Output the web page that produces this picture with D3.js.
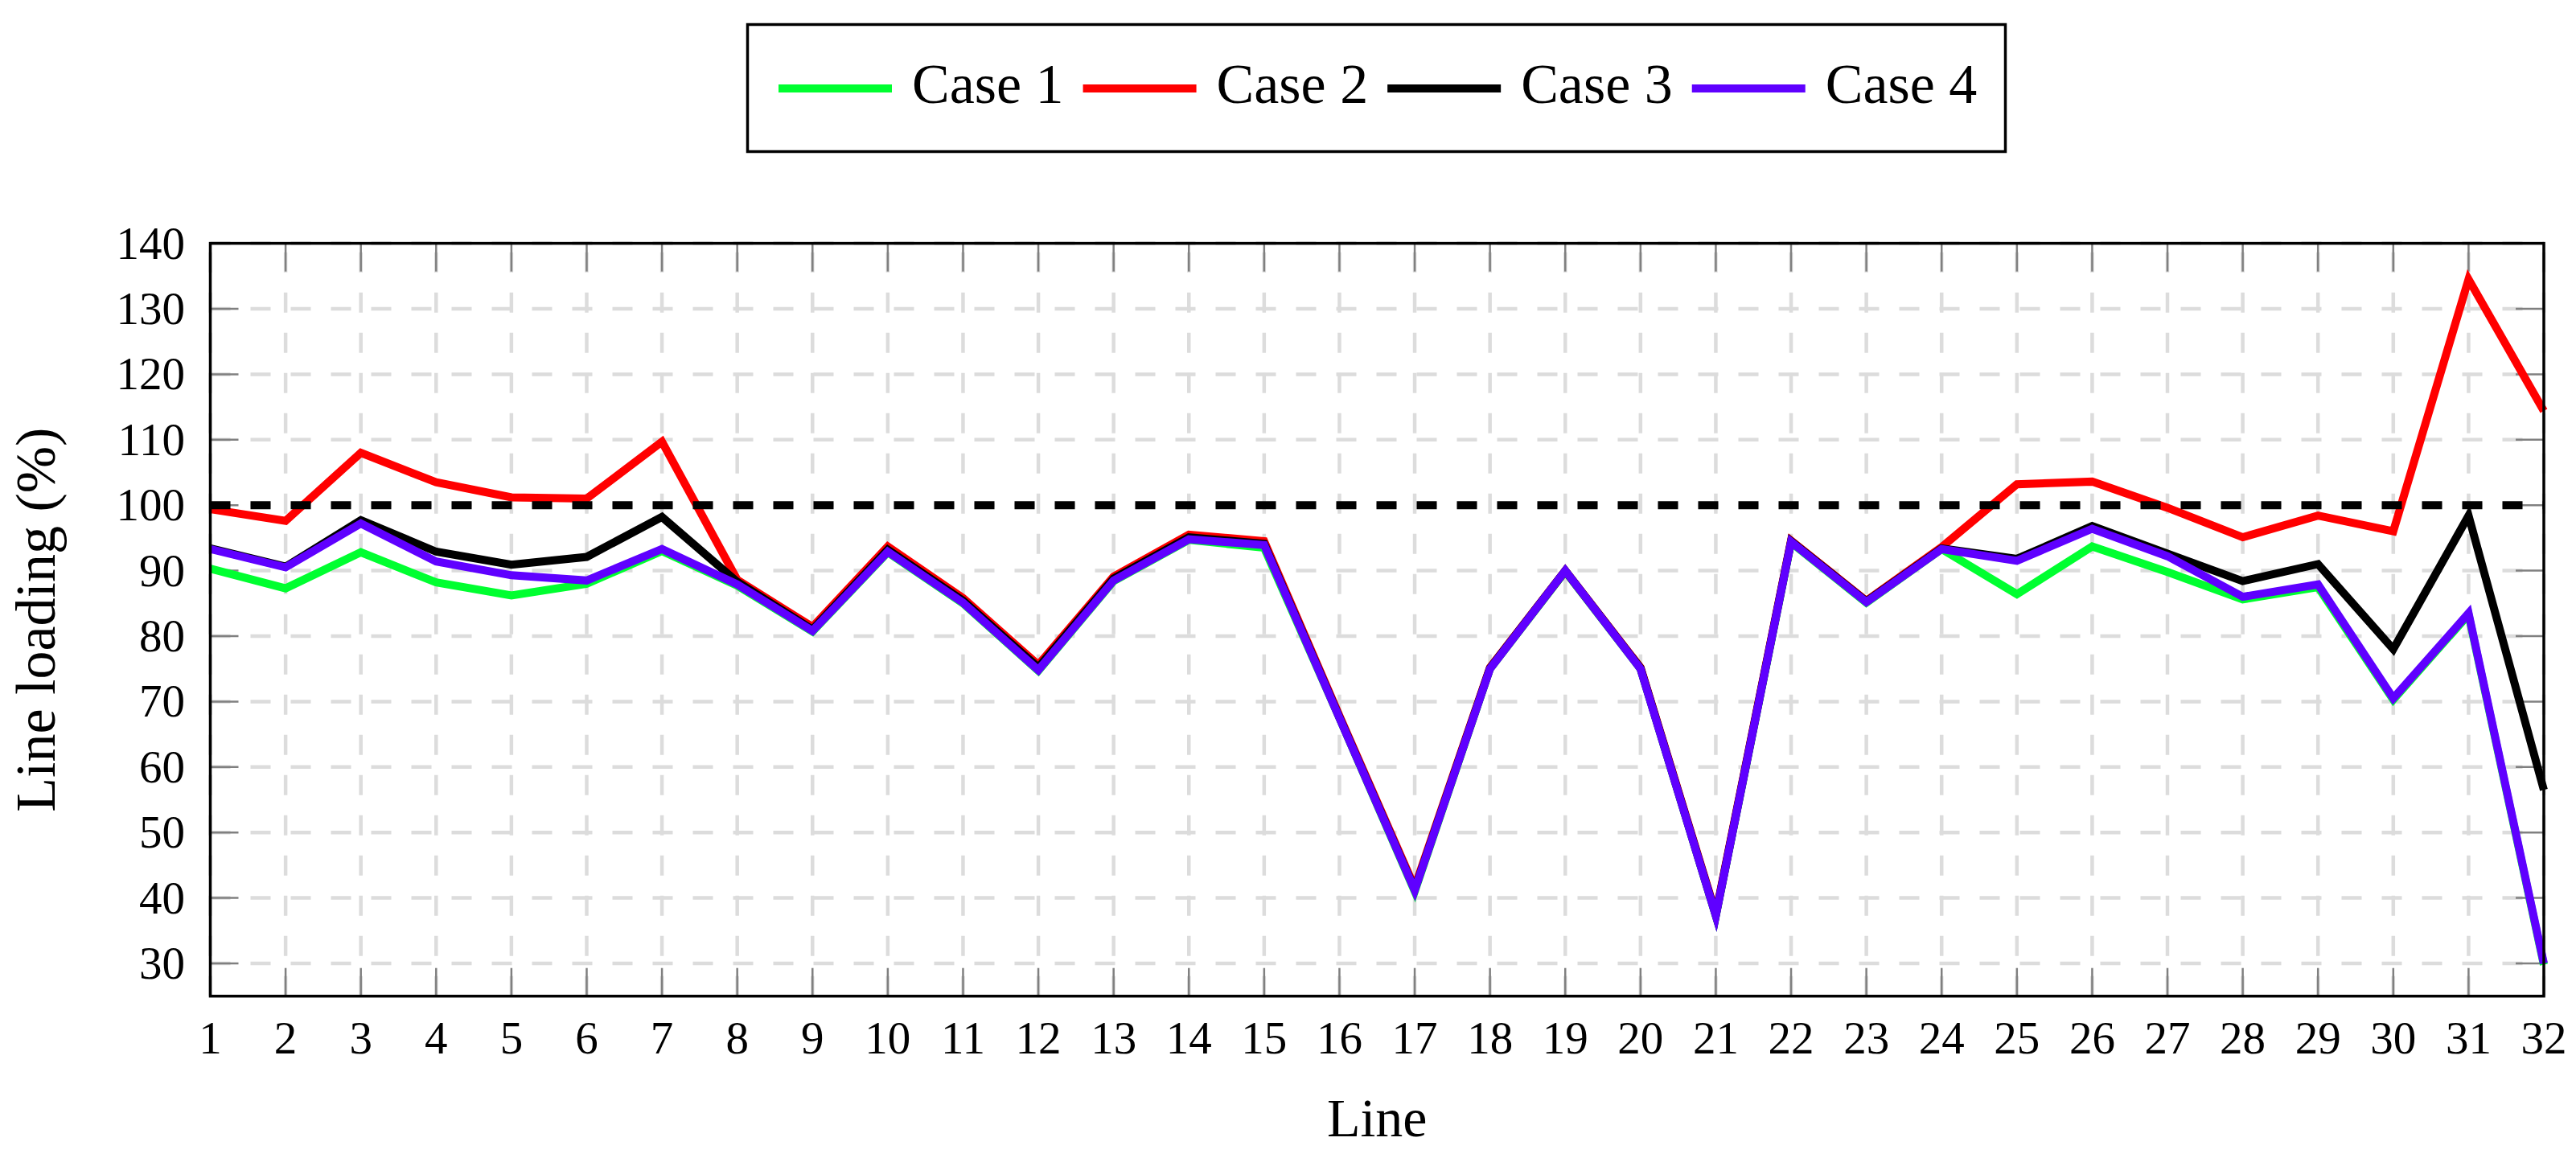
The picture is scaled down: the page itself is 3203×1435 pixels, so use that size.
<!DOCTYPE html>
<html>
<head>
<meta charset="utf-8">
<script src="https://cdn.jsdelivr.net/npm/d3@7"></script>
<style>
  html, body { margin: 0; padding: 0; background: #fff; }
  svg { display: block; }
  text { font-family: "Liberation Serif", "DejaVu Serif", serif; fill: #000; }
</style>
</head>
<body>
<svg id="chart" width="3203" height="1435"></svg>
<script>
// ---------- data ----------
const lines = d3.range(1, 33); // Line 1..32
const seriesNames = ["Case 1", "Case 2", "Case 3", "Case 4"];
const case1 = [90.3, 87.3, 92.8, 88.2, 86.2, 88.0, 93.0, 87.7, 80.7, 92.8, 85.0, 74.7, 88.4, 94.7, 93.5, 67.5,
               41.0, 75.0, 89.9, 75.0, 37.3, 94.3, 85.1, 93.3, 86.4, 93.7, 89.8, 85.6, 87.5, 70.3, 83.3, 29.8];
const case2 = [99.4, 97.6, 108.0, 103.5, 101.2, 101.0, 109.7, 88.6, 81.4, 93.7, 85.8, 75.6, 89.1, 95.5, 94.5, 67.8,
               41.6, 75.2, 90.0, 75.2, 37.6, 94.6, 85.4, 93.6, 103.2, 103.6, 99.6, 95.1, 98.4, 96.0, 134.5, 114.4];
const case3 = [93.4, 90.6, 97.7, 92.9, 90.9, 92.1, 98.2, 88.3, 81.0, 93.2, 85.4, 75.2, 88.8, 95.1, 94.1, 67.6,
               41.3, 75.1, 90.0, 75.1, 37.4, 94.5, 85.3, 93.4, 91.8, 96.8, 92.6, 88.4, 91.0, 78.0, 98.4, 56.5];
const case4 = [93.3, 90.5, 97.2, 91.4, 89.3, 88.5, 93.3, 87.9, 80.8, 92.9, 85.1, 74.8, 88.5, 94.8, 93.9, 67.5,
               41.2, 75.0, 90.0, 75.0, 37.3, 94.4, 85.2, 93.3, 91.5, 96.4, 92.2, 86.0, 87.9, 70.5, 83.5, 30.0];
const seriesValues = [case1, case2, case3, case4];
const seriesColors = ["#00ff30", "#ff0000", "#000000", "#5f00ff"];
const yTicks = [30, 40, 50, 60, 70, 80, 90, 100, 110, 120, 130, 140];
const xTicks = lines;
const limitValue = 100;
const yDomain = [25, 140];
const xLabel = "Line";
const yLabel = "Line loading (%)";

// ---------- layout ----------
const L = 261.5, R = 3163, T = 302.6, B = 1238.7;
const svg = d3.select("#chart");
const x = d3.scaleLinear().domain([1, 32]).range([L, R]);
const y = d3.scaleLinear().domain(yDomain).range([B, T]);

// grid
const grid = svg.append("g");
grid.selectAll("line.v").data(xTicks).join("line")
  .attr("x1", d => x(d)).attr("x2", d => x(d)).attr("y1", B).attr("y2", T)
  .attr("stroke", "#dcdcdc").attr("stroke-width", 4.5).attr("stroke-dasharray", "25,25");
grid.selectAll("line.h").data(yTicks).join("line")
  .attr("x1", L).attr("x2", R).attr("y1", d => y(d)).attr("y2", d => y(d))
  .attr("stroke", "#dcdcdc").attr("stroke-width", 4.5).attr("stroke-dasharray", "25,25");

// ticks (inside, on all four sides)
const tickLen = 35;
const ticks = svg.append("g").attr("stroke", "#808080").attr("stroke-width", 2.5);
ticks.selectAll("line.b").data(xTicks).join("line")
  .attr("x1", d => x(d)).attr("x2", d => x(d)).attr("y1", B).attr("y2", B - tickLen);
ticks.selectAll("line.t").data(xTicks).join("line")
  .attr("x1", d => x(d)).attr("x2", d => x(d)).attr("y1", T).attr("y2", T + tickLen);
ticks.selectAll("line.l").data(yTicks).join("line")
  .attr("x1", L).attr("x2", L + tickLen).attr("y1", d => y(d)).attr("y2", d => y(d));
ticks.selectAll("line.r").data(yTicks).join("line")
  .attr("x1", R).attr("x2", R - tickLen).attr("y1", d => y(d)).attr("y2", d => y(d));

// data lines
const lineGen = d3.line().x((d, i) => x(lines[i])).y(d => y(d)).curve(d3.curveLinear);
svg.append("g").selectAll("path").data(seriesValues).join("path")
  .attr("d", d => lineGen(d))
  .attr("fill", "none")
  .attr("stroke", (d, i) => seriesColors[i])
  .attr("stroke-width", 10)
  .attr("stroke-linejoin", "miter")
  .attr("stroke-miterlimit", 10);

// 100% limit line
svg.append("line")
  .attr("x1", L).attr("x2", R).attr("y1", y(limitValue)).attr("y2", y(limitValue))
  .attr("stroke", "#000").attr("stroke-width", 10).attr("stroke-dasharray", "25,25");

// frame
svg.append("rect").attr("x", L).attr("y", T).attr("width", R - L).attr("height", B - T)
  .attr("fill", "none").attr("stroke", "#000").attr("stroke-width", 3.5);

// tick labels
svg.append("g").selectAll("text").data(xTicks).join("text")
  .attr("x", d => x(d)).attr("y", 1310).attr("text-anchor", "middle")
  .attr("font-size", 57).text(d => d);
svg.append("g").selectAll("text").data(yTicks).join("text")
  .attr("x", 230).attr("y", d => y(d) + 19).attr("text-anchor", "end")
  .attr("font-size", 57).text(d => d);

// axis labels
svg.append("text").attr("x", (L + R) / 2).attr("y", 1413).attr("text-anchor", "middle")
  .attr("font-size", 68).text(xLabel);
svg.append("text").attr("transform", `translate(68, ${(T + B) / 2}) rotate(-90)`)
  .attr("text-anchor", "middle").attr("font-size", 70).text(yLabel);

// legend
const legend = svg.append("g");
legend.append("rect").attr("x", 929.5).attr("y", 30.5).attr("width", 1564).attr("height", 158)
  .attr("fill", "#fff").attr("stroke", "#000").attr("stroke-width", 3.5);
let lx = 968;
seriesNames.forEach((name, i) => {
  legend.append("line").attr("x1", lx).attr("x2", lx + 141).attr("y1", 110).attr("y2", 110)
    .attr("stroke", seriesColors[i]).attr("stroke-width", 10);
  const t = legend.append("text").attr("x", lx + 166).attr("y", 128)
    .attr("font-size", 70).text(name);
  const w = t.node().getComputedTextLength();
  lx = lx + 166 + w + 24;
});
</script>
</body>
</html>
